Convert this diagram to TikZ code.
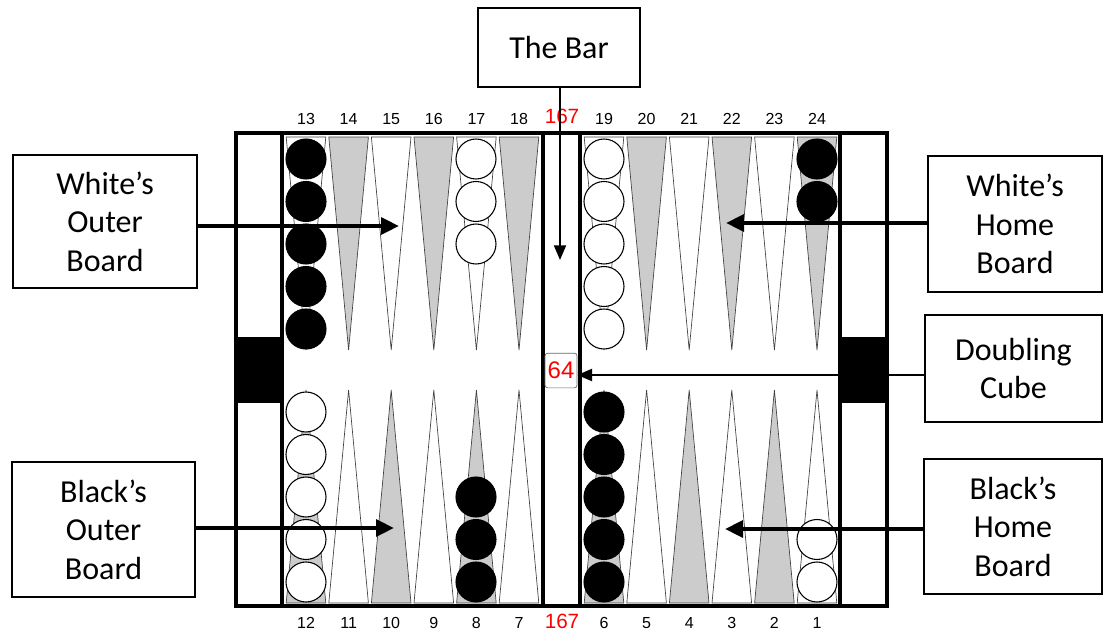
\documentclass[tikz,border=0pt]{standalone}
\usepackage{fontspec}
\setmainfont{Carlito}
\newfontfamily\numfont{Liberation Sans}
\usetikzlibrary{arrows.meta}
\definecolor{ptgray}{RGB}{204,204,204}
\definecolor{cubered}{RGB}{255,0,0}
\begin{document}
\begin{tikzpicture}[x=0.75pt,y=-0.75pt,
  callout/.style={draw=black,line width=1.5pt,fill=white,align=center,
    font=\fontsize{24}{29}\selectfont,inner sep=0pt},
  frameline/.style={line width=3pt,line cap=rect},
  ptwhite/.style={fill=white,draw=black!75,line width=0.5pt},
  ptgrey/.style={fill=ptgray,draw=black!75,line width=0.5pt},
  chkblack/.style={fill=black,draw=black,line width=0.8pt},
  chkwhite/.style={fill=white,draw=black,line width=0.8pt},
  ptnum/.style={font=\numfont\fontsize{12}{12}\selectfont,inner sep=0pt},
  pipnum/.style={font=\numfont\fontsize{15.5}{15.5}\selectfont,text=cubered,inner sep=0pt},
  thickarrow/.style={line width=3pt,-{Triangle[length=13.5pt,width=12.5pt]}},
  thinarrow/.style={line width=1.4pt,-{Triangle[length=11pt,width=9pt]}}
]
\useasboundingbox (0,0) rectangle (1104,632);
\fill[white] (0,0) rectangle (1104,632);

% trays and bar background
\fill[white] (236,133) rectangle (887,607);

% points
\foreach \k in {0,...,5}{
  \pgfmathsetmacro{\cl}{306+42.6*\k}
  \pgfmathsetmacro{\cr}{604+42.6*\k}
  \pgfmathtruncatemacro{\ev}{mod(\k,2)}
  \ifnum\ev=0
    \path[ptwhite] (\cl-19.8,137) -- (\cl,350) -- (\cl+19.8,137) -- cycle;
    \path[ptwhite] (\cr-19.8,137) -- (\cr,350) -- (\cr+19.8,137) -- cycle;
    \path[ptgrey] (\cl-19.8,603) -- (\cl,390) -- (\cl+19.8,603) -- cycle;
    \path[ptgrey] (\cr-19.8,603) -- (\cr,390) -- (\cr+19.8,603) -- cycle;
  \else
    \path[ptgrey] (\cl-19.8,137) -- (\cl,350) -- (\cl+19.8,137) -- cycle;
    \path[ptgrey] (\cr-19.8,137) -- (\cr,350) -- (\cr+19.8,137) -- cycle;
    \path[ptwhite] (\cl-19.8,603) -- (\cl,390) -- (\cl+19.8,603) -- cycle;
    \path[ptwhite] (\cr-19.8,603) -- (\cr,390) -- (\cr+19.8,603) -- cycle;
  \fi
}

% checkers
\foreach \j in {0,...,4}{
  \path[chkblack] (306,159+42.5*\j) circle[radius=15pt];      % point 13
  \path[chkwhite] (604,159+42.5*\j) circle[radius=15pt];      % point 19
  \path[chkwhite] (306,582-42.5*\j) circle[radius=15pt];      % point 12
  \path[chkblack] (604,582-42.5*\j) circle[radius=15pt];      % point 6
}
\foreach \j in {0,...,2}{
  \path[chkwhite] (476,159+42.5*\j) circle[radius=15pt];      % point 17
  \path[chkblack] (476,582-42.5*\j) circle[radius=15pt];      % point 8
}
\foreach \j in {0,1}{
  \path[chkblack] (817,159+42.5*\j) circle[radius=15pt];      % point 24
  \path[chkwhite] (817,582-42.5*\j) circle[radius=15pt];      % point 1
}

% tray blocks
\fill[black] (236,337) rectangle (282,403);
\fill[black] (840,337) rectangle (887,403);

% frame
\draw[frameline] (236,133) rectangle (887,606);
\foreach \xx in {282,543,580,840}{
  \draw[line width=3pt] (\xx,133) -- (\xx,606);
}

% point numbers
\foreach \k in {0,...,5}{
  \pgfmathsetmacro{\cl}{306+42.6*\k}
  \pgfmathsetmacro{\cr}{604+42.6*\k}
  \pgfmathtruncatemacro{\nt}{13+\k}
  \pgfmathtruncatemacro{\ntr}{19+\k}
  \pgfmathtruncatemacro{\nb}{12-\k}
  \pgfmathtruncatemacro{\nbr}{6-\k}
  \node[ptnum] (t\nt) at (\cl,119) {\nt};
  \node[ptnum] (t\ntr) at (\cr,119) {\ntr};
  \node[ptnum] (b\nb) at (\cl,623) {\nb};
  \node[ptnum] (b\nbr) at (\cr,623) {\nbr};
}
\node[pipnum] (piptop) at (562,116) {167};
\node[pipnum] (pipbot) at (562,621) {167};

% doubling cube
\node[draw=black!60,line width=0.5pt,rounded corners=2pt,fill=white,
  minimum width=24pt,minimum height=26pt,inner sep=0pt,
  font=\numfont\fontsize{18}{18}\selectfont,text=cubered] (cube) at (561,370.5) {64};

% callout boxes
\node[callout,minimum width=121.5pt,minimum height=59.25pt] (barbox) at (559,47.5) {The Bar};
\node[callout,minimum width=138pt,minimum height=99.75pt] (wob) at (105,221.5) {White’s\\Outer\\Board};
\node[callout,minimum width=130.5pt,minimum height=102pt] (whb) at (1015,224) {White’s\\Home\\Board};
\node[callout,minimum width=132.75pt,minimum height=80.25pt] (dcb) at (1013.5,368.5) {Doubling\\Cube};
\node[callout,minimum width=137.25pt,minimum height=101.25pt] (bob) at (103.5,529.5) {Black’s\\Outer\\Board};
\node[callout,minimum width=133.5pt,minimum height=101.25pt] (bhb) at (1013,526.5) {Black’s\\Home\\Board};

% arrow targets
\coordinate (twob) at (399,226);
\coordinate (twhb) at (726,223);
\coordinate (tbob) at (394,528);
\coordinate (tbhb) at (725,529);
\coordinate (tbar) at (560,260);

% arrows
\draw[thickarrow] (wob.east |- twob) -- (twob);
\draw[thickarrow] (whb.west |- twhb) -- (twhb);
\draw[thickarrow] (bob.east |- tbob) -- (tbob);
\draw[thickarrow] (bhb.west |- tbhb) -- (tbhb);
\draw[thinarrow] (barbox.south -| tbar) -- (tbar);
\draw[thinarrow] (dcb.west |- 0,375) -- (cube.east |- 0,375);
\end{tikzpicture}
\end{document}
